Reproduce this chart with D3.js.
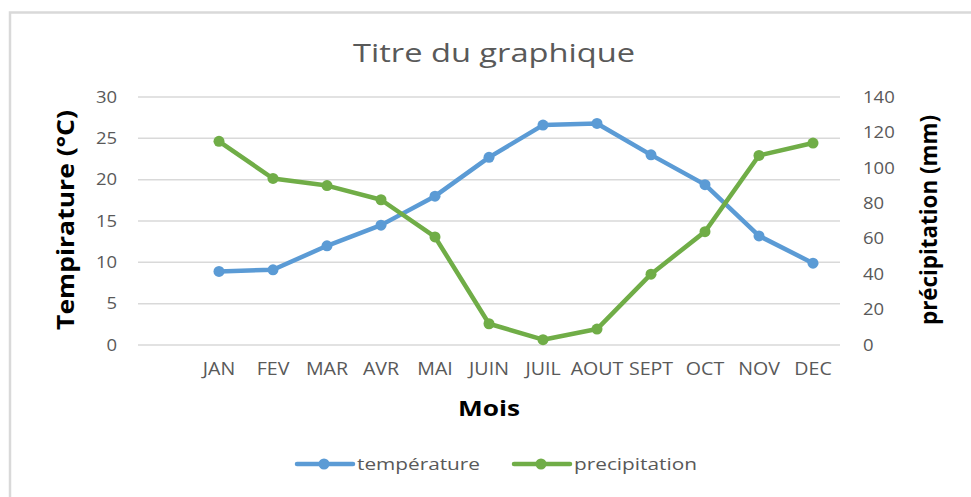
<!DOCTYPE html>
<html>
<head>
<meta charset="utf-8">
<script src="https://cdn.jsdelivr.net/npm/d3@7"></script>
<style>
  body { margin: 0; background: #fff; }
  svg { display: block; }
  text { font-family: 'Open Sans', Lato, sans-serif; }
</style>
</head>
<body>
<svg id="chart" width="971" height="497"></svg>
<script>
// Months (the chart keeps an empty first slot on the category axis)
const months = ['JAN', 'FEV', 'MAR', 'AVR', 'MAI', 'JUIN', 'JUIL', 'AOUT', 'SEPT', 'OCT', 'NOV', 'DEC']
const temperature = [8.9, 9.1, 12.0, 14.5, 18.0, 22.7, 26.6, 26.8, 23.0, 19.4, 13.2, 9.9]
const precipitation = [115, 94, 90, 82, 61, 12, 3, 9, 40, 64, 107, 114]
const tempTicks = [0, 5, 10, 15, 20, 25, 30]
const precTicks = [0, 20, 40, 60, 80, 100, 120, 140]

const BLUE = '#5b9bd5'
const GREEN = '#70ad47'
const GRAY = '#595959'
const FONT = "'Open Sans', Lato, sans-serif"
const STRETCH = 1.12   // the source picture is a bit wider than tall

// plot area
const L = 138, R = 840, T = 97, B = 345

const svg = d3.select('#chart')

// stretch a text horizontally, to a given width or by a factor
function widen(sel, width) {
    sel.each(function () {
        const w = width || this.getComputedTextLength() * STRETCH
        d3.select(this).attr('textLength', w).attr('lengthAdjust', 'spacingAndGlyphs')
    })
}

// frame (left and top edges visible)
svg.append('path')
    .attr('d', `M10,497 L10,12.5 L971,12.5`)
    .attr('fill', 'none')
    .attr('stroke', '#d9d9d9')
    .attr('stroke-width', 2.5)

const x = d3.scaleBand()
    .domain([' '].concat(months))
    .range([L, R])
const cx = m => x(m) + x.bandwidth() / 2

const yT = d3.scaleLinear().domain([0, 30]).range([B, T])
const yP = d3.scaleLinear().domain([0, 140]).range([B, T])

// Title
svg.append('text')
    .attr('x', 494)
    .attr('y', 62)
    .attr('text-anchor', 'middle')
    .style('font-size', '26px')
    .style('fill', GRAY)
    .text('Titre du graphique')
    .call(widen, 282)

// Gridlines
svg.append('g')
    .selectAll('line')
    .data(tempTicks)
    .join('line')
    .attr('x1', L).attr('x2', R)
    .attr('y1', d => yT(d)).attr('y2', d => yT(d))
    .attr('stroke', '#d9d9d9')
    .attr('stroke-width', 1.5)

function styleTicks(g, size) {
    g.select('.domain').remove()
    g.selectAll('text')
        .style('font-size', size + 'px')
        .style('font-family', FONT)
        .style('fill', GRAY)
        .call(widen)
}

// Left axis
svg.append('g')
    .attr('transform', `translate(${L - 21},0)`)
    .call(d3.axisLeft(yT).tickValues(tempTicks).tickSize(0).tickPadding(0))
    .call(styleTicks, 16.5)

// Right axis
svg.append('g')
    .attr('transform', `translate(${R + 23},0)`)
    .call(d3.axisRight(yP).tickValues(precTicks).tickSize(0).tickPadding(0))
    .call(styleTicks, 16.5)

// Category axis
svg.append('g')
    .attr('transform', `translate(0,${B})`)
    .call(d3.axisBottom(x).tickValues(months).tickSize(0).tickPadding(18))
    .call(styleTicks, 17.5)

// Axis titles
svg.append('text')
    .attr('transform', 'translate(74,220) rotate(-90)')
    .attr('text-anchor', 'middle')
    .style('font-size', '23px')
    .style('font-weight', 'bold')
    .style('fill', '#000')
    .text('Tempirature (°C)')
    .call(widen, 220)

svg.append('text')
    .attr('transform', 'translate(937,220) rotate(-90)')
    .attr('text-anchor', 'middle')
    .style('font-size', '23px')
    .style('font-weight', 'bold')
    .style('fill', '#000')
    .text('précipitation (mm)')
    .call(widen, 210)

svg.append('text')
    .attr('x', 489)
    .attr('y', 416)
    .attr('text-anchor', 'middle')
    .style('font-size', '22px')
    .style('font-weight', 'bold')
    .style('fill', '#000')
    .text('Mois')
    .call(widen, 62)

// Series
function drawSeries(values, yScale, color) {
    const pts = months.map((m, i) => [cx(m), yScale(values[i])])
    const g = svg.append('g')
    g.append('path')
        .attr('d', d3.line()(pts))
        .attr('fill', 'none')
        .attr('stroke', color)
        .attr('stroke-width', 4.5)
        .attr('stroke-linejoin', 'round')
        .attr('stroke-linecap', 'round')
    g.selectAll('circle')
        .data(pts)
        .join('circle')
        .attr('cx', d => d[0])
        .attr('cy', d => d[1])
        .attr('r', 5.5)
        .attr('fill', color)
}
drawSeries(temperature, yT, BLUE)
drawSeries(precipitation, yP, GREEN)

// Legend
const legendItems = [
    { label: 'température', color: BLUE, x: 297 },
    { label: 'precipitation', color: GREEN, x: 514 }
]
const lg = svg.append('g')
legendItems.forEach(item => {
    lg.append('line')
        .attr('x1', item.x).attr('x2', item.x + 56)
        .attr('y1', 464).attr('y2', 464)
        .attr('stroke', item.color)
        .attr('stroke-width', 4.5)
        .attr('stroke-linecap', 'round')
    lg.append('circle')
        .attr('cx', item.x + 27).attr('cy', 464).attr('r', 5.5)
        .attr('fill', item.color)
    lg.append('text')
        .attr('x', item.x + 60)
        .attr('y', 470)
        .style('font-size', '17px')
        .style('fill', GRAY)
        .text(item.label)
        .call(widen, 123)
})
</script>
</body>
</html>
